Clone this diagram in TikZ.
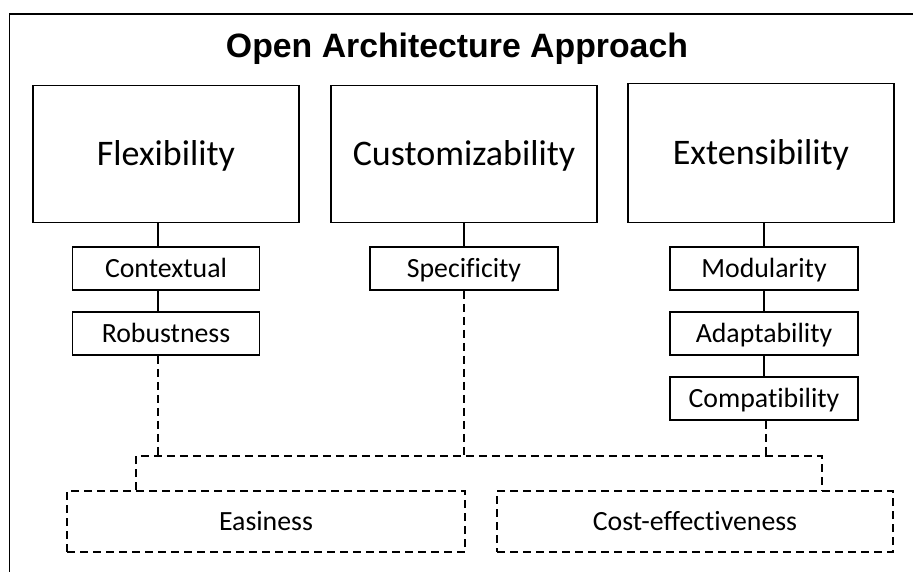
\documentclass[tikz,border=0pt]{standalone}
\usepackage{fontspec}
\setmainfont{Carlito}[Ligatures={NoCommon}]
\newfontfamily\titlefont{Liberation Sans}
\begin{document}
\begin{tikzpicture}[x=1pt,y=-1pt,
  solidline/.style={line width=1.8pt},
  dashline/.style={line width=1.8pt,dash pattern=on 8pt off 5pt},
  bigbox/.style={solidline,draw,rectangle,inner sep=0pt,minimum width=266pt,minimum height=137pt,
    text height=23pt,text depth=0pt,font=\fontsize{36}{40}\selectfont},
  subbox/.style={solidline,draw,rectangle,inner sep=0pt,minimum width=187pt,minimum height=43pt,
    text height=17.5pt,text depth=0pt,font=\fontsize{27.8}{30}\selectfont},
  outbox/.style={dashline,draw,rectangle,inner sep=0pt,minimum height=61pt,
    text height=17.5pt,text depth=0pt,font=\fontsize{27.8}{30}\selectfont}]
\clip (0,0) rectangle (913,571);
\fill[white] (0,0) rectangle (913,571);
% outer frame, running past the right and bottom edges
\draw[solidline] (9.5,14) rectangle (940,600);
\node[anchor=base,font=\titlefont\bfseries\fontsize{33.8}{38}\selectfont] (title) at (457,57) {Open Architecture Approach};
% main pillars
\node[bigbox] (flex) at (166,154) {Flexibility};
\node[bigbox] (cust) at (464,154) {Customizability};
\node[bigbox,minimum height=139pt] (ext) at (761,153) {Extensibility};
% sub-properties
\node[subbox] (ctx) at (166,268.5) {Contextual};
\node[subbox] (rob) at (166,333.5) {Robustness};
\node[subbox,minimum width=188pt] (spec) at (464,268.5) {Specificity};
\node[subbox,minimum width=188pt] (mod) at (764,268.5) {Modularity};
\node[subbox,minimum width=188pt] (adp) at (764,333.5) {Adaptability};
\node[subbox,minimum width=188pt] (cmp) at (764,398.5) {Compatibility};
% outcomes
\node[outbox,minimum width=398pt] (eas) at (266,521.5) {Easiness};
\node[outbox,minimum width=396pt] (cost) at (695,521.5) {Cost-effectiveness};
% solid links
\draw[solidline] ([xshift=-8pt]flex.south) -- ([xshift=-8pt]ctx.north);
\draw[solidline] ([xshift=-8pt]ctx.south) -- ([xshift=-8pt]rob.north);
\draw[solidline] (cust.south) -- (spec.north);
\draw[solidline] (ext.south -| mod.north) -- (mod.north);
\draw[solidline] (mod.south) -- (adp.north);
\draw[solidline] (adp.south) -- (cmp.north);
% dashed bus to the outcomes
\coordinate (busL) at (136,456);
\coordinate (busR) at (822,456);
\draw[dashline] (eas.north -| busL) -- (busL) -- (busR) -- (cost.north -| busR);
\draw[dashline] ([xshift=-8pt]rob.south) -- ([xshift=-8pt]rob.south |- busL);
\draw[dashline] (spec.south) -- (spec.south |- busL);
\draw[dashline] ([xshift=2pt]cmp.south) -- ([xshift=2pt]cmp.south |- busL);
\end{tikzpicture}
\end{document}
